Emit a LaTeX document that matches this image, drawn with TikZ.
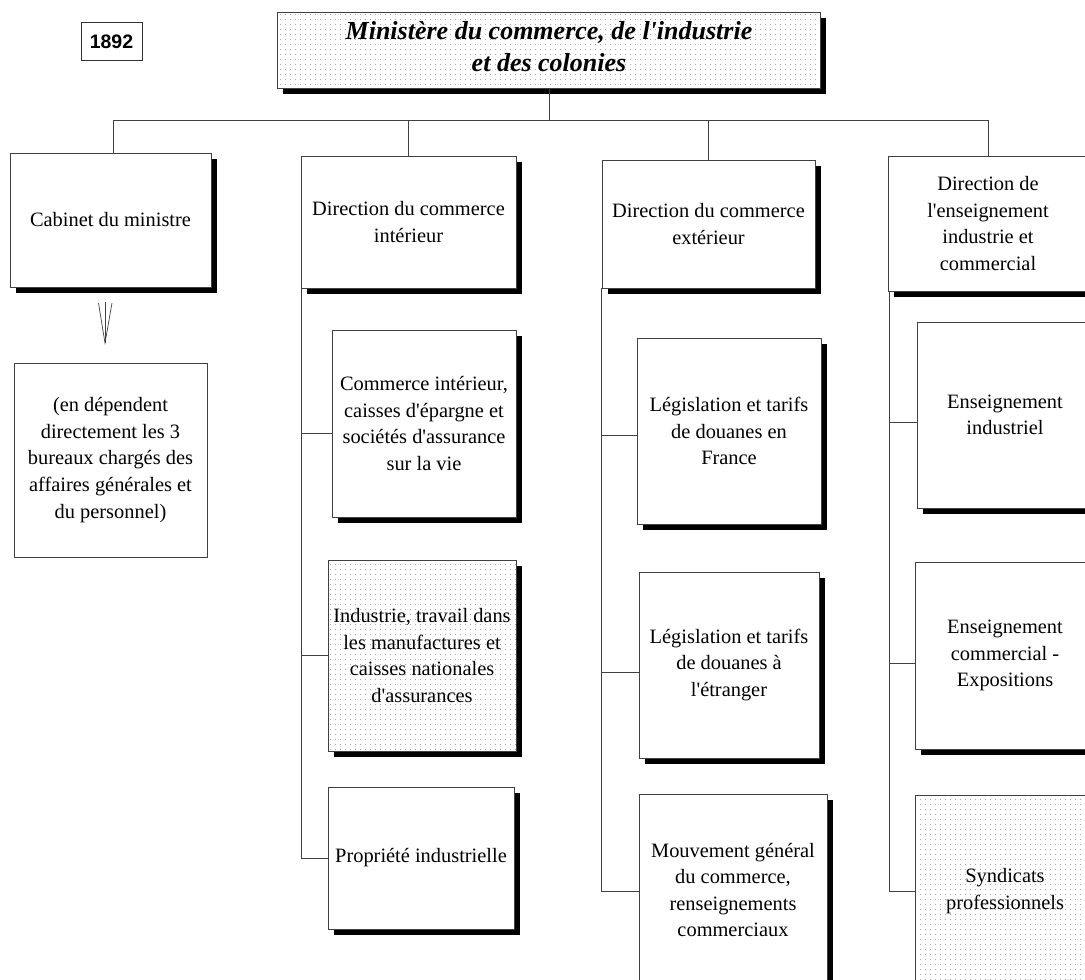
\documentclass[tikz,border=0pt]{standalone}
\usepackage{fontspec}
\setmainfont{Liberation Serif}[Ligatures=TeXOff]
\newfontfamily\arialfont{Liberation Sans}
\usetikzlibrary{shadows,patterns}
\pgfdeclarepatternformonly{mydots}{\pgfpointorigin}{\pgfqpoint{5pt}{5pt}}{\pgfqpoint{5pt}{5pt}}{\pgfpathrectangle{\pgfpointorigin}{\pgfqpoint{1pt}{1pt}}\pgfusepath{fill}}
\tikzset{
  box/.style={draw=black!75, line width=0.9pt, fill=white, align=center, inner sep=0pt,
              font=\fontsize{20.4}{26.6}\selectfont},
  shad/.style={drop shadow={shadow xshift=5.5pt, shadow yshift=-5.5pt, fill=black, opacity=1}},
  dotfill/.style={preaction={fill=white}, pattern=mydots, pattern color=black!35},
  conn/.style={draw=black!75, line width=0.9pt},
}
\begin{document}
\begin{tikzpicture}[x=1pt,y=-1pt]
\path[use as bounding box] (0,0) rectangle (1085,980);
\clip (0,0) rectangle (1085,980);

% year
\node[draw=black!80, line width=1pt, minimum width=61pt, minimum height=38pt, inner sep=0pt,
      font=\arialfont\bfseries\fontsize{19.5}{22}\selectfont] (year) at (111.5,41.5) {1892};

% title
\node[box, shad, dotfill, minimum width=543pt, minimum height=76pt,
      label={[yshift=4pt, align=center, inner sep=0pt,
              font=\fontsize{26}{32.5}\selectfont\bfseries\itshape]center:Ministère du commerce, de l'industrie\\et des colonies}]
      (title) at (549,50.5) {};

% heads
\node[box, shad, minimum width=201pt, minimum height=134pt] (cab) at (110.5,220) {Cabinet du ministre};
\node[box, shad, minimum width=215pt, minimum height=132pt] (h2) at (408.5,222) {Direction du commerce\\intérieur};
\node[box, shad, minimum width=213pt, minimum height=128pt] (h3) at (708.5,224) {Direction du commerce\\extérieur};
\node[box, shad, minimum width=200pt, minimum height=135pt] (h4) at (988,223.5) {Direction de\\l'enseignement\\industrie et\\commercial};

% cabinet dependents
\node[box, minimum width=193pt, minimum height=194pt] (dep) at (110.5,460)
      {(en dépendent\\directement les 3\\bureaux chargés des\\affaires générales et\\du personnel)};

% column 2 children
\node[box, shad, minimum width=184pt, minimum height=187pt] (c21) at (424,423.5)
      {Commerce intérieur,\\caisses d'épargne et\\sociétés d'assurance\\sur la vie};
\node[box, shad, dotfill, minimum width=188pt, minimum height=191pt] (c22) at (422,655.5)
      {Industrie, travail dans\\les manufactures et\\caisses nationales\\d'assurances};
\node[box, shad, minimum width=186pt, minimum height=142pt] (c23) at (421,858)
      {Propriété industrielle};

% column 3 children
\node[box, shad, minimum width=184pt, minimum height=186pt] (c31) at (729,431)
      {Législation et tarifs\\de douanes en\\France};
\node[box, shad, minimum width=180pt, minimum height=186pt] (c32) at (729,665)
      {Législation et tarifs\\de douanes à\\l'étranger};
\node[box, shad, minimum width=188pt, minimum height=192pt] (c33) at (733,890)
      {Mouvement général\\du commerce,\\renseignements\\commerciaux};

% column 4 children
\node[box, shad, minimum width=176pt, minimum height=186pt] (c41) at (1005,415)
      {Enseignement\\industriel};
\node[box, shad, minimum width=180pt, minimum height=187pt] (c42) at (1005,655.5)
      {Enseignement\\commercial -\\Expositions};
\node[box, shad, dotfill, minimum width=180pt, minimum height=192pt] (c43) at (1005,891)
      {Syndicats\\professionnels};

% top bar
\coordinate (bar) at (0,120);
\coordinate (cabtop) at ([xshift=2.5pt]cab.north);
\draw[conn] (title.south) -- (title.south |- bar);
\draw[conn] (cabtop |- bar) -- (h4.north |- bar);
\draw[conn] (cabtop |- bar) -- (cabtop);
\draw[conn] (h2.north |- bar) -- (h2.north);
\draw[conn] (h3.north |- bar) -- (h3.north);
\draw[conn] (h4.north |- bar) -- (h4.north);

% arrow under cabinet
\coordinate (arT) at (105,302);
\coordinate (arB) at (105,343);
\coordinate (arL) at (98.5,303);
\coordinate (arR) at (112,303);
\draw[conn, line width=0.7pt] (arT) -- (arB);
\draw[conn, line width=0.7pt] (arL) -- (arB) -- (arR);

% column 2 trunk
\coordinate (t2) at ([xshift=1pt]h2.south west);
\coordinate (c21w) at ([yshift=-9.5pt]c21.west);
\draw[conn] (t2) -- (t2 |- c23.west) -- (c23.west);
\draw[conn] (t2 |- c21w) -- (c21w);
\draw[conn] (t2 |- c22.west) -- (c22.west);

% column 3 trunk
\coordinate (t3) at (h3.south west);
\coordinate (c31w) at ([yshift=-4pt]c31.west);
\coordinate (c32w) at ([yshift=-7pt]c32.west);
\coordinate (c33w) at ([yshift=-1pt]c33.west);
\draw[conn] (t3) -- (t3 |- c33w) -- (c33w);
\draw[conn] (t3 |- c31w) -- (c31w);
\draw[conn] (t3 |- c32w) -- (c32w);

% column 4 trunk
\coordinate (t4) at ([xshift=2pt]h4.south west);
\coordinate (c41w) at ([yshift=-7pt]c41.west);
\coordinate (c42w) at ([yshift=-7.5pt]c42.west);
\draw[conn] (t4) -- (t4 |- c43.west) -- (c43.west);
\draw[conn] (t4 |- c41w) -- (c41w);
\draw[conn] (t4 |- c42w) -- (c42w);
\end{tikzpicture}
\end{document}
